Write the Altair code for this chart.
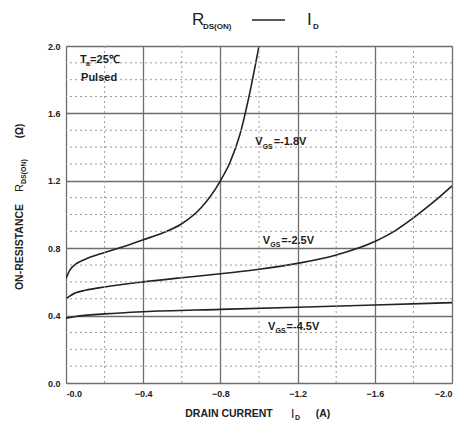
import altair as alt
import pandas as pd

# ---- data ----
id_18 = [0.0, -0.02, -0.05, -0.1, -0.2, -0.3, -0.4, -0.5, -0.6, -0.7, -0.8, -0.85, -0.9, -0.95, -1.0]
r_18 = [0.62, 0.67, 0.705, 0.735, 0.775, 0.81, 0.85, 0.89, 0.945, 1.04, 1.2, 1.31, 1.47, 1.71, 2.0]

id_25 = [0.0, -0.05, -0.1, -0.2, -0.4, -0.6, -0.8, -1.0, -1.2, -1.4, -1.6, -1.7, -1.8, -1.9, -2.0]
r_25 = [0.50, 0.535, 0.55, 0.57, 0.60, 0.625, 0.648, 0.675, 0.71, 0.76, 0.84, 0.90, 0.98, 1.07, 1.17]

id_45 = [0.0, -0.05, -0.2, -0.4, -0.8, -1.2, -1.6, -2.0]
r_45 = [0.385, 0.395, 0.41, 0.423, 0.437, 0.45, 0.463, 0.477]

x_major = [0.0, -0.4, -0.8, -1.2, -1.6, -2.0]
y_major = [0.0, 0.4, 0.8, 1.2, 1.6, 2.0]
x_minor = [-0.2, -0.6, -1.0, -1.4, -1.8]
y_minor = [0.1, 0.2, 0.3, 0.5, 0.6, 0.7, 0.9, 1.0, 1.1, 1.3, 1.4, 1.5, 1.7, 1.8, 1.9]

FONT = "Liberation Sans"
INK = "#222222"

rows = []
for name, xs, ys in [("-1.8V", id_18, r_18), ("-2.5V", id_25, r_25), ("-4.5V", id_45, r_45)]:
    for a, b in zip(xs, ys):
        rows.append({"series": name, "id": a, "r": b})
curves = pd.DataFrame(rows)

xscale = alt.Scale(domain=[0, -2.0], nice=False)
yscale = alt.Scale(domain=[0, 2.0], nice=False)

one = alt.Data(values=[{"a": 1}])

lines = alt.Chart(curves).mark_line(
    color=INK, strokeWidth=1.6, interpolate="monotone", clip=True
).encode(
    x=alt.X("id:Q", scale=xscale, axis=alt.Axis(
        values=x_major, title=None, grid=True, gridColor="#6e6e6e", gridWidth=1.3,
        ticks=False, domain=False, labelFont=FONT, labelFontSize=9, labelFontWeight="bold",
        labelColor=INK, labelPadding=6,
        labelExpr="datum.value == 0 ? '-0.0' : format(datum.value, '.1f')")),
    y=alt.Y("r:Q", scale=yscale, axis=alt.Axis(
        values=y_major, title=None, grid=True, gridColor="#6e6e6e", gridWidth=1.3,
        ticks=False, domain=False, labelFont=FONT, labelFontSize=9, labelFontWeight="bold",
        labelColor=INK, labelPadding=6, format=".1f")),
    detail="series:N",
    order=alt.Order("id:Q", sort="descending"),
)

minor_x = alt.Chart(pd.DataFrame({"id": x_minor})).mark_rule(
    color="#9a9a9a", strokeWidth=1, strokeDash=[2, 3]
).encode(x=alt.X("id:Q", scale=xscale))

minor_y = alt.Chart(pd.DataFrame({"r": y_minor})).mark_rule(
    color="#9a9a9a", strokeWidth=1, strokeDash=[2, 3]
).encode(y=alt.Y("r:Q", scale=yscale))


def dlabel(x, y, txt, size=11, dx=0, dy=0):
    return alt.Chart(one).mark_text(
        align="left", baseline="alphabetic", font=FONT, fontSize=size,
        fontWeight="bold", color=INK, dx=dx, dy=dy
    ).encode(x=alt.XDatum(x, scale=xscale),
             y=alt.YDatum(y, scale=yscale),
             text=alt.value(txt))


def plabel(x, y, txt, size=10, angle=0, align="left", baseline="alphabetic", weight="bold"):
    return alt.Chart(one).mark_text(
        align=align, baseline=baseline, font=FONT, fontSize=size, angle=angle,
        fontWeight=weight, color=INK
    ).encode(x=alt.value(x), y=alt.value(y), text=alt.value(txt))


annots = []
# V_GS labels
for (x0, y0, val) in [(-0.98, 1.41, "=-1.8V"), (-1.02, 0.825, "=-2.5V"), (-1.047, 0.315, "=-4.5V")]:
    annots += [dlabel(x0, y0, "V"), dlabel(x0, y0, "GS", size=7, dx=7.5, dy=3.5),
               dlabel(x0, y0, val, dx=18.5)]
# Ta / Pulsed
annots += [dlabel(-0.073, 1.90, "T"), dlabel(-0.073, 1.90, "a", size=7, dx=6, dy=3),
           dlabel(-0.073, 1.90, "=25\u2103", dx=10), dlabel(-0.078, 1.79, "Pulsed")]

# title  R_DS(ON) —— I_D
title_parts = [
    plabel(126, -21, "R", size=17, weight="normal"),
    plabel(137, -17, "DS(ON)", size=8),
    plabel(241, -21, "I", size=17, weight="normal"),
    plabel(247, -17, "D", size=8),
]
dash = alt.Chart(one).mark_rule(color=INK, strokeWidth=1.3).encode(
    x=alt.value(186), x2=alt.value(219), y=alt.value(-26))

# axis titles
axis_titles = [
    plabel(163, 368, "DRAIN CURRENT", size=10.5, align="center", baseline="middle"),
    plabel(225, 368, "I", size=12, align="left", baseline="middle", weight="normal"),
    plabel(229, 372, "D", size=7, align="left", baseline="middle"),
    plabel(257, 368, "(A)", size=10.5, align="center", baseline="middle"),
    plabel(-46, 201, "ON-RESISTANCE", size=10.5, angle=270, align="center", baseline="middle"),
    plabel(-46, 146, "R", size=11, angle=270, align="left", baseline="middle", weight="normal"),
    plabel(-42, 138, "DS(ON)", size=7, angle=270, align="left", baseline="middle"),
    plabel(-46, 85, "(\u03a9)", size=10, angle=270, align="center", baseline="middle"),
]

chart = alt.layer(
    lines, minor_x, minor_y, *annots, *title_parts, dash, *axis_titles
).properties(
    width=386, height=337,
    padding={"left": 58, "top": 38, "right": 2, "bottom": 42},
    autosize=alt.AutoSizeParams(type="none"),
).configure_view(stroke="#444444", strokeWidth=1.5).configure(background="white")

chart.save("out.html", embed_options={"renderer": "svg", "actions": False})
